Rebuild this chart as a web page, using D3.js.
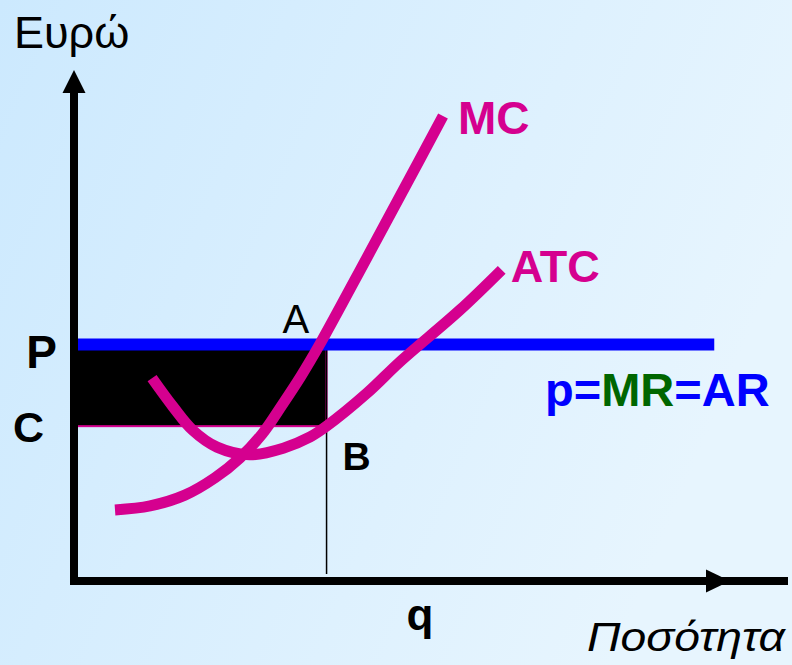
<!DOCTYPE html>
<html>
<head>
<meta charset="utf-8">
<script src="https://cdn.jsdelivr.net/npm/d3@7/dist/d3.min.js"></script>
<style>
  html, body { margin: 0; padding: 0; }
  svg { display: block; }
  text { font-family: "Liberation Sans", Arial, sans-serif; }
</style>
</head>
<body>
<svg id="chart" width="792" height="665"></svg>
<script>
// Marginal cost curve (quantity, euro)
const mcQuantity = [6.25, 11.6, 16.9, 21.5, 25.3, 28.7, 31.7, 34.6, 37.5, 44.7, 49.7, 56.25];
const mcCost     = [13.9, 14.7, 16.8, 20.2, 24.1, 28.8, 34.4, 40.1, 46.4, 63.4, 75.3, 91.0];

// Average total cost curve (quantity, euro)
const atcQuantity = [11.9, 15.1, 18.1, 21.8, 26.8, 31.9, 36.0, 38.5, 44.7, 49.7, 58.8, 65.2];
const atcCost     = [39.7, 34.1, 29.5, 26.2, 24.7, 26.0, 28.2, 30.3, 36.8, 42.9, 53.0, 60.9];

// Market price, average cost at the chosen output, chosen output
const price = 46.3;
const avgCost = 30.3;
const output = 38.5;
const priceLineEnd = 97.6;

const axisLabels = { y: "Ευρώ", x: "Ποσότητα" };

const svg = d3.select("#chart");
const W = 792, H = 665;

// background wash
const defs = svg.append("defs");
const grad = defs.append("linearGradient").attr("id", "bg")
  .attr("x1", "0").attr("y1", "0").attr("x2", "1").attr("y2", "0.35");
grad.append("stop").attr("offset", "0").attr("stop-color", "#CCE9FE");
grad.append("stop").attr("offset", "1").attr("stop-color", "#E7F5FE");
svg.append("rect").attr("width", W).attr("height", H).attr("fill", "url(#bg)");

const x = d3.scaleLinear().domain([0, 100]).range([74, 730]);
const y = d3.scaleLinear().domain([0, 100]).range([581, 70]);

const magenta = "#D5008F";

// profit rectangle between price and average cost
svg.append("rect")
  .attr("x", x(0) - 3)
  .attr("y", y(price))
  .attr("width", x(output) - x(0) + 3)
  .attr("height", y(avgCost) - y(price))
  .attr("fill", "#000")
  .attr("stroke", magenta)
  .attr("stroke-width", 2);

// vertical guide at the chosen output
svg.append("line")
  .attr("x1", x(output)).attr("x2", x(output))
  .attr("y1", y(price) - 11).attr("y2", y(0) - 7)
  .attr("stroke", "#000").attr("stroke-width", 1.5);

// price line p = MR = AR
svg.append("line")
  .attr("x1", x(0) + 4).attr("x2", x(priceLineEnd))
  .attr("y1", y(price)).attr("y2", y(price))
  .attr("stroke", "#0000FF").attr("stroke-width", 12);

// axes without ticks, arrowheads at the ends
const xAxis = svg.append("g").attr("transform", `translate(0,${y(0)})`)
  .call(d3.axisBottom(x).tickValues([]).tickSizeOuter(0));
const yAxis = svg.append("g").attr("transform", `translate(${x(0)},0)`)
  .call(d3.axisLeft(y).tickValues([]).tickSizeOuter(0));
[xAxis, yAxis].forEach(g => g.select(".domain")
  .attr("stroke", "#000").attr("stroke-width", 8).attr("stroke-linecap", "square"));
xAxis.select(".domain").attr("d", `M0,0H${x(100) - 20}`).attr("transform", `translate(${x(0)},0)`);
yAxis.select(".domain").attr("d", `M0,${y(0)}V${y(100) + 20}`);

svg.append("path")
  .attr("d", `M${x(100)},${y(0)} L${x(100) - 24},${y(0) - 11.5} L${x(100) - 24},${y(0) + 11.5} Z`)
  .attr("fill", "#000");
svg.append("path")
  .attr("d", `M${x(0)},${y(100)} L${x(0) - 11.5},${y(100) + 23} L${x(0) + 11.5},${y(100) + 23} Z`)
  .attr("fill", "#000");

// cost curves
const line = d3.line().x(d => x(d[0])).y(d => y(d[1])).curve(d3.curveCatmullRom.alpha(0.5));
const atcPts = atcQuantity.map((q, i) => [q, atcCost[i]]);
const mcPts = mcQuantity.map((q, i) => [q, mcCost[i]]);
svg.append("path").attr("d", line(atcPts))
  .attr("fill", "none").attr("stroke", magenta).attr("stroke-width", 11);
svg.append("path").attr("d", line(mcPts))
  .attr("fill", "none").attr("stroke", magenta).attr("stroke-width", 11);

// labels
function label(txt, px, py, opts = {}) {
  return svg.append("text")
    .attr("x", px).attr("y", py)
    .attr("font-size", opts.size || 44)
    .attr("font-weight", opts.bold ? "bold" : "normal")
    .attr("font-style", opts.italic ? "italic" : "normal")
    .attr("fill", opts.color || "#000")
    .attr("text-anchor", opts.anchor || "start")
    .text(txt);
}

label(axisLabels.y, 14, 48, { size: 45 });
label(axisLabels.x, 587, 651, { size: 40, italic: true })
  .attr("textLength", 198).attr("lengthAdjust", "spacingAndGlyphs");

label("P", x(0) - 17, y(price) + 24, { size: 46, bold: true, anchor: "end" });
label("C", x(0) - 30, y(avgCost) + 16, { size: 43, bold: true, anchor: "end" });
label("q", x(output) + 80, y(0) + 49, { size: 44, bold: true });
label("A", x(output) - 44, y(price) - 11, { size: 40 });
label("B", x(output) + 16, y(avgCost) + 44, { size: 39, bold: true });

label("MC", x(mcQuantity[mcQuantity.length - 1]) + 15, y(mcCost[mcCost.length - 1]) + 18,
  { size: 46, bold: true, color: magenta });
label("ATC", x(atcQuantity[atcQuantity.length - 1]) + 9, y(atcCost[atcCost.length - 1]) + 12,
  { size: 45, bold: true, color: magenta });

const eq = svg.append("text").attr("x", 545).attr("y", 406)
  .attr("font-size", 47).attr("font-weight", "bold").attr("fill", "#0000FF");
eq.append("tspan").text("p=");
eq.append("tspan").attr("fill", "#006600").text("MR");
eq.append("tspan").text("=AR");
</script>
</body>
</html>
